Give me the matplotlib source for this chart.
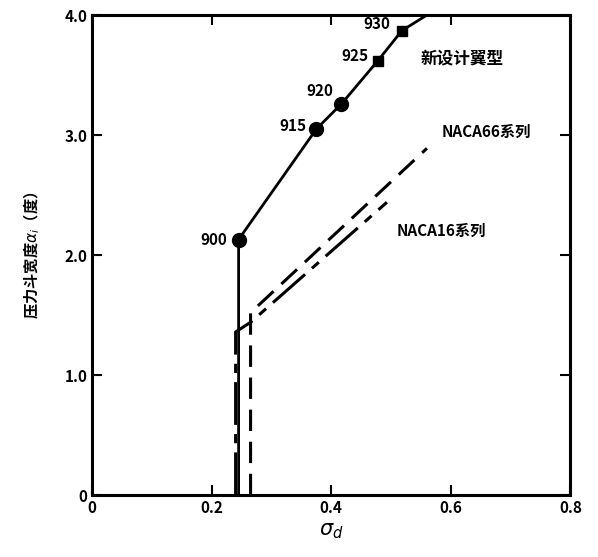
import numpy as np
import matplotlib.pyplot as plt

plt.rcParams['font.family'] = ['Noto Sans CJK SC', 'DejaVu Sans']

# 新设计翼型
new_x = [0.245, 0.245, 0.375, 0.417, 0.478, 0.518, 0.56]
new_y = [0.0, 2.13, 3.05, 3.26, 3.62, 3.87, 4.0]
pt_labels = ['900', '915', '920', '925', '930']
# NACA66系列
n66_x = [0.265, 0.265, 0.56]
n66_y = [0.0, 1.52, 2.89]
# NACA16系列
n16_x = [0.240, 0.240, 0.265, 0.493]
n16_y = [0.0, 1.36, 1.44, 2.44]

xticks = [0, 0.2, 0.4, 0.6, 0.8]
yticks = [0, 1.0, 2.0, 3.0, 4.0]

fig = plt.figure(figsize=(5.98, 5.57), dpi=100)
ax = fig.add_axes([0.154, 0.111, 0.8, 0.862])

ax.plot(new_x, new_y, color='black', lw=2)
ax.plot(new_x[1:4], new_y[1:4], 'o', color='black', ms=10)
ax.plot(new_x[4:6], new_y[4:6], 's', color='black', ms=7)
ax.plot(n66_x, n66_y, color='black', lw=2.2, dashes=(7, 3.5))
ax.plot(n16_x, n16_y, color='black', lw=2.2, dashes=(14, 3, 3, 3))

offs = [(-8, 0), (-7, 2), (-6, 9), (-7, 3), (-8, 5)]
for x, y, s, o in zip(new_x[1:6], new_y[1:6], pt_labels, offs):
    ax.annotate(s, (x, y), xytext=o, textcoords='offset points',
                ha='right', va='center', fontsize=11, fontweight='bold')

ax.text(0.55, 3.64, '新设计翼型', fontsize=12, fontweight='bold', ha='left', va='center')
ax.text(0.585, 3.03, 'NACA66系列', fontsize=11, fontweight='bold', ha='left', va='center')
ax.text(0.51, 2.2, 'NACA16系列', fontsize=11, fontweight='bold', ha='left', va='center')

ax.set_xlim(0, 0.8)
ax.set_ylim(0, 4.0)
ax.set_xticks(xticks)
ax.set_xticklabels(['0', '0.2', '0.4', '0.6', '0.8'])
ax.set_yticks(yticks)
ax.set_yticklabels(['0', '1.0', '2.0', '3.0', '4.0'])
ax.tick_params(direction='in', top=True, right=True, length=7, width=1.5,
               labelsize=11)
for lab in ax.get_xticklabels() + ax.get_yticklabels():
    lab.set_fontweight('bold')
for sp in ax.spines.values():
    sp.set_linewidth(2.2)

ax.set_xlabel(r'$\sigma_d$', fontsize=15, labelpad=2)
ax.set_ylabel(r'压力斗宽度$\alpha_i$（度）', fontsize=11, fontweight='bold', labelpad=16)

fig.savefig('out.png', dpi=100)
